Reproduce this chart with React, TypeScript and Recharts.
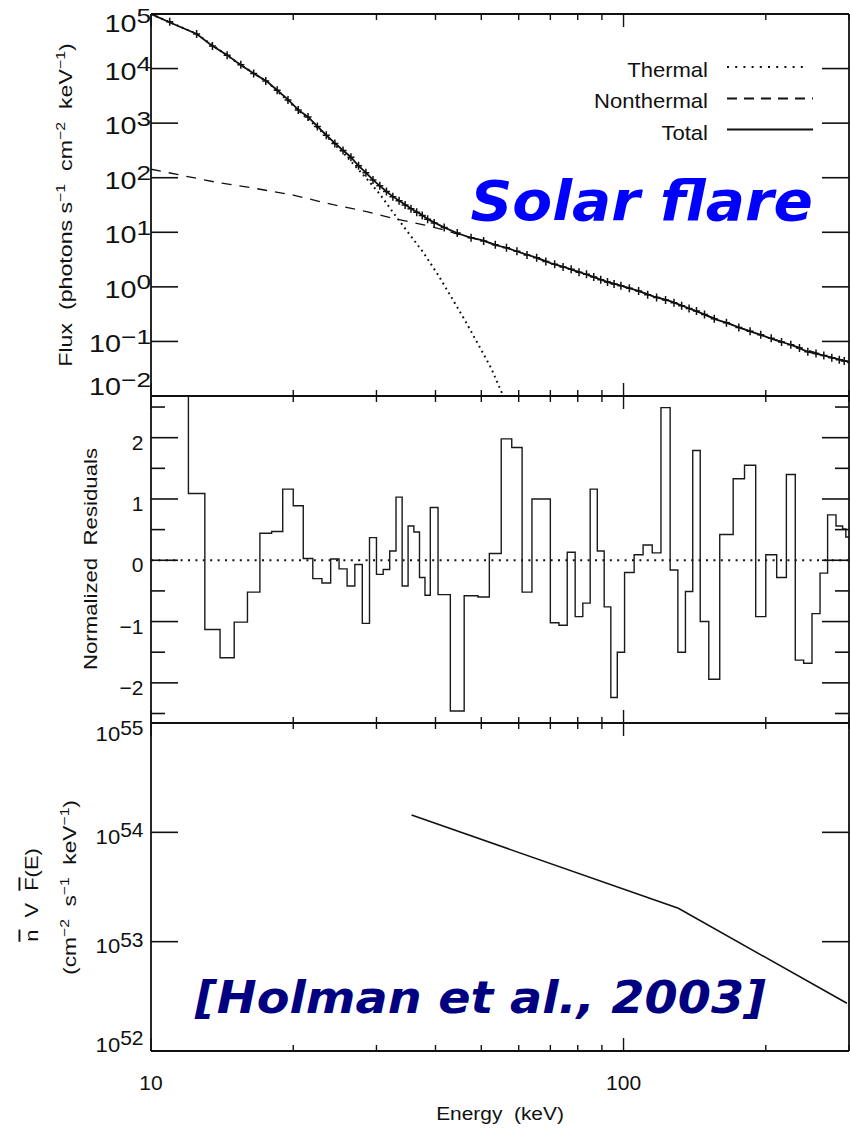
import React from 'react';
import { ComposedChart, Line, Scatter, XAxis, YAxis, ReferenceLine } from 'recharts';

const W = 850;
const H = 1130;
const INK = '#111';
const FONT = '"Liberation Sans", Arial, Helvetica, sans-serif';
const BOLD_FONT = '"DejaVu Sans", Verdana, sans-serif';

// ---- energy axis (shared by all three panels) ----
const E_DOMAIN: [number, number] = [10, 300];
const energyTicks = [10, 20, 30, 40, 50, 60, 70, 80, 90, 100, 200, 300];
const energyMajor = [10, 100];

// ---- panel 1: photon spectrum (photons s^-1 cm^-2 keV^-1) ----
const fluxTicks = [1e-2, 1e-1, 1, 10, 1e2, 1e3, 1e4, 1e5];

const totalEnergy = [10, 11, 12.5, 13.4, 14.45, 15.4, 16.5, 17.6, 18.5, 19.5, 20.5, 21.5, 22.5, 23.5, 24.5, 25.5, 26.4, 27.4, 28.6, 29.5, 30.5, 31.5, 32.5, 33.6, 34.7, 35.9, 37.4, 38.5, 41.8, 44.7, 47.2, 50.4, 53.4, 56.9, 61.8, 65.9, 70.3, 75, 80, 85.4, 91.9, 98.8, 107, 116, 126, 137, 146, 156, 166, 177, 195, 209, 226, 245, 266, 300];
const totalFlux = [1.0e5, 6.9e4, 4.3e4, 2.7e4, 1.8e4, 1.2e4, 8.1e3, 5.8e3, 4.0e3, 2.7e3, 1.75e3, 1.3e3, 870, 600, 430, 315, 245, 170, 120, 91, 71, 56, 45, 37.6, 31, 25.7, 21, 17.4, 12.2, 9.5, 8.1, 7.1, 5.9, 5.1, 4.0, 3.35, 2.7, 2.3, 1.9, 1.58, 1.25, 1.05, 0.85, 0.66, 0.54, 0.41, 0.33, 0.257, 0.216, 0.176, 0.132, 0.107, 0.087, 0.065, 0.055, 0.042];

const thermalEnergy = [10, 12.5, 15.4, 17.6, 20.5, 22.5, 25.5, 27.4, 28.6, 30.5, 33, 35.3, 37.6, 40.5, 43.2, 46.1, 49.2, 52.5, 54.7, 56.5];
const thermalFlux = [1.0e5, 4.3e4, 1.2e4, 5.75e3, 1.71e3, 830, 287, 145, 96, 50, 19.5, 9.0, 4.4, 1.66, 0.65, 0.25, 0.09, 0.032, 0.014, 0.0075];

const nonthermalEnergy = [10, 13.9, 16.4, 20, 24.3, 28.6, 32.5, 38, 41.8, 44.7, 50.4, 56.9, 61.8, 70.3, 80, 91.9, 107, 126, 146, 166, 195, 226, 266, 300];
const nonthermalFlux = [143, 81, 65, 48, 32, 24, 18, 13.5, 11, 9.2, 7.0, 5.1, 4.0, 2.7, 1.9, 1.25, 0.85, 0.54, 0.33, 0.216, 0.132, 0.087, 0.055, 0.042];

// count-spectrum energy bins (keV) shared by the data points and the residuals
const binEdges = [10, 12, 13, 14, 15, 16, 17, 18, 19, 20, 21, 22, 23, 24, 25, 26, 27, 28, 29, 30, 31, 32, 33, 34, 35, 36, 37, 38, 39, 40.5, 43, 46, 49.2, 52, 55.1, 58, 61, 64, 67, 70, 73, 76, 79, 82, 85, 88, 91, 94, 97, 100.5, 105.3, 110, 115, 120, 125.5, 130.3, 135.2, 140.1, 145.3, 151.5, 159.8, 170.6, 180.3, 190.4, 200, 210.9, 221.1, 230.9, 240.5, 250.5, 260.5, 270.3, 281.6, 290.8, 295.4, 310];
const dataFlux = [7.2e4, 4.3e4, 2.6e4, 1.75e4, 1.17e4, 8.1e3, 5.9e3, 4.0e3, 2.65e3, 1.75e3, 1.29e3, 870, 600, 425, 315, 237, 166, 123, 91, 71, 56, 45, 38, 31.6, 27, 23.4, 20.4, 17.4, 14.8, 12.3, 9.7, 7.9, 6.9, 5.9, 5.2, 4.5, 3.85, 3.4, 2.9, 2.6, 2.3, 2.1, 1.86, 1.7, 1.51, 1.35, 1.23, 1.13, 1.05, 0.945, 0.84, 0.72, 0.64, 0.575, 0.51, 0.45, 0.4, 0.36, 0.31, 0.26, 0.219, 0.18, 0.153, 0.132, 0.114, 0.098, 0.087, 0.076, 0.065, 0.06, 0.055, 0.05, 0.046, 0.0437, 0.041];

// ---- panel 2: normalized residuals ----
const residualDomain: [number, number] = [-2.655, 2.68];
const residualTicks = [-2.5, -2, -1.5, -1, -0.5, 0, 0.5, 1, 1.5, 2, 2.5];
const residuals = [3.2, 1.09, -1.13, -1.59, -1.01, -0.52, 0.44, 0.47, 1.16, 0.89, 0.03, -0.3, -0.37, 0.02, -0.14, -0.42, -0.07, -1.03, 0.37, -0.23, -0.15, 0.15, 1.03, -0.42, 0.56, 0.46, -0.28, -0.57, 0.86, -0.56, -2.46, -0.58, -0.6, 0.11, 1.98, 1.84, -0.52, 1.0, 1.0, -1.02, -1.06, 0.13, -0.92, -0.7, 1.16, 0.15, -0.76, -2.24, -1.5, -0.2, 0.09, 0.25, 0.12, 2.49, -0.16, -1.5, -0.51, 1.79, -1.0, -1.94, 0.42, 1.33, 1.55, -0.92, 0.09, -0.28, 1.4, -1.63, -1.68, -0.87, -0.21, 0.74, 0.56, 0.51, 0.38];

// ---- panel 3: mean electron flux spectrum ----
const nvfTicks = [1e52, 1e53, 1e54, 1e55];
const electronEnergy = [35.6, 130.6, 297];
const electronFlux = [1.44e54, 2.02e53, 2.73e52];

// legend entries
const legendNames = ['Thermal', 'Nonthermal', 'Total'];
const legendDash = ['2 6.2', '10 7', undefined];

// ---- rows built from the arrays above ----
const totalRows = totalEnergy.map((e, i) => ({ e, f: totalFlux[i] }));
const thermalRows = thermalEnergy.map((e, i) => ({ e, f: thermalFlux[i] }));
const nonthermalRows = nonthermalEnergy.map((e, i) => ({ e, f: nonthermalFlux[i] }));
const dataRows = dataFlux.map((f, i) => ({ e: Math.sqrt(binEdges[i] * binEdges[i + 1]), f }));
const residualRows = binEdges.map((e, i) => ({ e, r: residuals[Math.min(i, residuals.length - 1)] }));
const electronRows = electronEnergy.map((e, i) => ({ e, f: electronFlux[i] }));

// ---- small text helper: IDL-style wide glyphs via horizontal scaling ----
function Txt({ x, y, size, sx = 1, rot = 0, anchor = 'start', fill = INK, family = FONT, weight, italic, children }: any) {
  return (
    <text
      transform={`translate(${x} ${y}) rotate(${rot}) scale(${sx} 1)`}
      fontSize={size}
      textAnchor={anchor}
      fill={fill}
      fontFamily={family}
      fontWeight={weight}
      fontStyle={italic ? 'italic' : undefined}
      style={{ whiteSpace: 'pre' }}
    >
      {children}
    </text>
  );
}

const signed = (n: number) => (n < 0 ? '\u2212' + String(-n) : String(n));

// x ticks drawn inward from the frame (dir = +1 downwards, -1 upwards)
function energyTick(dir: number, labelled: boolean) {
  return (p: any) => {
    const v = p.payload.value;
    const major = energyMajor.includes(v);
    return (
      <g>
        <line x1={p.x} x2={p.x} y1={p.y} y2={p.y + dir * (major ? 13 : 6)} stroke={INK} strokeWidth={1.4} />
        {labelled && major ? (
          <Txt x={p.x} y={p.y + 39} size={21} anchor="middle">
            {String(v)}
          </Txt>
        ) : null}
      </g>
    );
  };
}

// y ticks drawn inward from the left (dir=+1) or right (dir=-1) frame
function valueTick(dir: number, isMajor: (v: number) => boolean, label?: (v: number, y: number) => React.ReactNode) {
  return (p: any) => {
    const v = p.payload.value;
    const len = isMajor(v) ? 27 : 14;
    return (
      <g>
        <line x1={p.x} x2={p.x + dir * len} y1={p.y} y2={p.y} stroke={INK} strokeWidth={1.6} />
        {label ? label(v, p.y) : null}
      </g>
    );
  };
}

const fluxLabel = (v: number, y: number) => {
  const n = Math.round(Math.log10(v));
  const shift = n === 5 ? 6.7 : n === -2 ? -12 : 0;
  return (
    <Txt x={151} y={y + 11 + shift} size={23} sx={1.25} anchor="end">
      10<tspan dy={-8.5} fontSize={21}>{signed(n)}</tspan>
    </Txt>
  );
};

const residualLabel = (v: number, y: number) =>
  Number.isInteger(v) ? (
    <Txt x={143.5} y={y + 12} size={21} anchor="end">
      {signed(v)}
    </Txt>
  ) : null;

const nvfLabel = (v: number, y: number) => {
  const n = Math.round(Math.log10(v));
  const shift = n === 55 ? 6.5 : n === 52 ? -11 : 0;
  return (
    <Txt x={143.5} y={y + 11.5 + shift} size={21} sx={1.05} anchor="end">
      10<tspan dy={-6.5} fontSize={20}>{String(n)}</tspan>
    </Txt>
  );
};

const isInt = (v: number) => Number.isInteger(v);
const always = () => true;

const frame = { stroke: INK, strokeWidth: 1.8 };

const Cross = (p: any) => {
  const { cx, cy } = p;
  if (cx == null || cy == null) return null;
  return <path d={`M${cx - 3.5},${cy}h7M${cx},${cy - 4}v8`} stroke={INK} strokeWidth={1.5} fill="none" />;
};

type PanelProps = {
  top: number;
  bottom: number;
  yScale: 'log' | 'linear';
  yDomain: [number, number];
  yTicks: number[];
  yMajor: (v: number) => boolean;
  yLabel: (v: number, y: number) => React.ReactNode;
  xLabels: boolean;
  children: React.ReactNode;
};

function Panel({ top, bottom, yScale, yDomain, yTicks, yMajor, yLabel, xLabels, children }: PanelProps) {
  return (
    <div style={{ position: 'absolute', left: 0, top: 0 }}>
      <ComposedChart width={W} height={H} margin={{ top: 0, right: 0, bottom: 0, left: 0 }}>
        <XAxis
          xAxisId="b"
          dataKey="e"
          type="number"
          scale="log"
          domain={E_DOMAIN}
          allowDataOverflow
          orientation="bottom"
          height={H - bottom}
          ticks={energyTicks}
          interval={0}
          tickSize={0}
          tickMargin={0}
          tickLine={false}
          axisLine={frame}
          tick={energyTick(-1, xLabels)}
        />
        <XAxis
          xAxisId="t"
          dataKey="e"
          type="number"
          scale="log"
          domain={E_DOMAIN}
          allowDataOverflow
          orientation="top"
          height={top}
          ticks={energyTicks}
          interval={0}
          tickSize={0}
          tickMargin={0}
          tickLine={false}
          axisLine={frame}
          tick={energyTick(1, false)}
        />
        <YAxis
          yAxisId="l"
          type="number"
          scale={yScale}
          domain={yDomain}
          allowDataOverflow
          orientation="left"
          width={151}
          ticks={yTicks}
          interval={0}
          tickSize={0}
          tickMargin={0}
          tickLine={false}
          axisLine={frame}
          tick={valueTick(1, yMajor, yLabel)}
        />
        <YAxis
          yAxisId="r"
          type="number"
          scale={yScale}
          domain={yDomain}
          allowDataOverflow
          orientation="right"
          width={1}
          ticks={yTicks}
          interval={0}
          tickSize={0}
          tickMargin={0}
          tickLine={false}
          axisLine={frame}
          tick={valueTick(-1, yMajor)}
        />
        {children}
      </ComposedChart>
    </div>
  );
}

function Sup({ t, r = 7, s = 13 }: { t: string; r?: number; s?: number }) {
  return (
    <tspan dy={-r} fontSize={s}>
      {t}
    </tspan>
  );
}

function Titles() {
  const legendY = [67, 98.5, 129.5];
  const legendBase = [76.7, 108, 139.5];
  return (
    <svg width={W} height={H} style={{ position: 'absolute', left: 0, top: 0, pointerEvents: 'none' }}>
      {/* axis titles */}
      <Txt x={72} y={205} rot={-90} size={19} sx={1.22} anchor="middle">
        Flux  (photons s<Sup t={'\u22121'} />
        <tspan dy={7}>  cm</tspan>
        <Sup t={'\u22122'} />
        <tspan dy={7}>  keV</tspan>
        <Sup t={'\u22121'} />
        <tspan dy={7}>)</tspan>
      </Txt>
      <Txt x={97} y={559} rot={-90} size={19} sx={1.17} anchor="middle">
        Normalized  Residuals
      </Txt>
      <Txt x={38} y={895} rot={-90} size={19} sx={1.15} anchor="middle">
        <tspan textDecoration="overline">n</tspan>  V  <tspan textDecoration="overline">F</tspan>(E)
      </Txt>
      <Txt x={76} y={887.5} rot={-90} size={19} sx={1.2} anchor="middle">
        (cm<Sup t={'\u22122'} />
        <tspan dy={7}>  s</tspan>
        <Sup t={'\u22121'} />
        <tspan dy={7}>  keV</tspan>
        <Sup t={'\u22121'} />
        <tspan dy={7}>)</tspan>
      </Txt>
      <Txt x={500} y={1120} size={19} sx={1.1} anchor="middle">
        Energy  (keV)
      </Txt>

      {/* legend */}
      {legendNames.map((name, i) => (
        <g key={name}>
          <Txt x={708} y={legendBase[i]} size={21} sx={1.05} anchor="end">
            {name}
          </Txt>
          <line
            x1={727}
            x2={i === 0 ? 808 : 813}
            y1={legendY[i]}
            y2={legendY[i]}
            stroke={INK}
            strokeWidth={i === 0 ? 2 : 1.8}
            strokeDasharray={legendDash[i]}
          />
        </g>
      ))}

      {/* annotations */}
      <Txt x={813} y={220} size={55} sx={1.056} anchor="end" fill="#0000ff" family={BOLD_FONT} weight="bold" italic>
        Solar flare
      </Txt>
      <Txt x={195} y={1013} size={45} sx={1.06} fill="#000080" family={BOLD_FONT} weight="bold" italic>
        [Holman et al., 2003]
      </Txt>
    </svg>
  );
}

export default function App() {
  return (
    <div style={{ position: 'absolute', left: 0, top: 0, width: W, height: H, background: '#fff' }}>
      {/* photon spectrum */}
      <Panel top={14} bottom={396} yScale="log" yDomain={[1e-2, 1e5]} yTicks={fluxTicks} yMajor={always} yLabel={fluxLabel} xLabels={false}>
        <Line data={thermalRows} dataKey="f" xAxisId="b" yAxisId="l" type="linear" stroke={INK} strokeWidth={2} strokeDasharray="1.8 3.8" dot={false} isAnimationActive={false} />
        <Line data={nonthermalRows} dataKey="f" xAxisId="b" yAxisId="l" type="linear" stroke={INK} strokeWidth={1.3} strokeDasharray="10 8" dot={false} isAnimationActive={false} />
        <Line data={totalRows} dataKey="f" xAxisId="b" yAxisId="l" type="linear" stroke={INK} strokeWidth={1.8} dot={false} isAnimationActive={false} />
        <Scatter data={dataRows} dataKey="f" xAxisId="b" yAxisId="l" shape={Cross} isAnimationActive={false} />
      </Panel>

      {/* residuals */}
      <Panel top={396} bottom={723} yScale="linear" yDomain={residualDomain} yTicks={residualTicks} yMajor={isInt} yLabel={residualLabel} xLabels={false}>
        <ReferenceLine y={0} xAxisId="b" yAxisId="l" stroke={INK} strokeWidth={2} strokeDasharray="2 5.4" />
        <Line data={residualRows} dataKey="r" xAxisId="b" yAxisId="l" type="stepAfter" stroke="#1a1a1a" strokeWidth={1.4} dot={false} isAnimationActive={false} />
      </Panel>

      {/* mean electron flux */}
      <Panel top={723} bottom={1051} yScale="log" yDomain={[1e52, 1e55]} yTicks={nvfTicks} yMajor={always} yLabel={nvfLabel} xLabels={true}>
        <Line data={electronRows} dataKey="f" xAxisId="b" yAxisId="l" type="linear" stroke={INK} strokeWidth={1.6} dot={false} isAnimationActive={false} />
      </Panel>

      <Titles />
    </div>
  );
}
